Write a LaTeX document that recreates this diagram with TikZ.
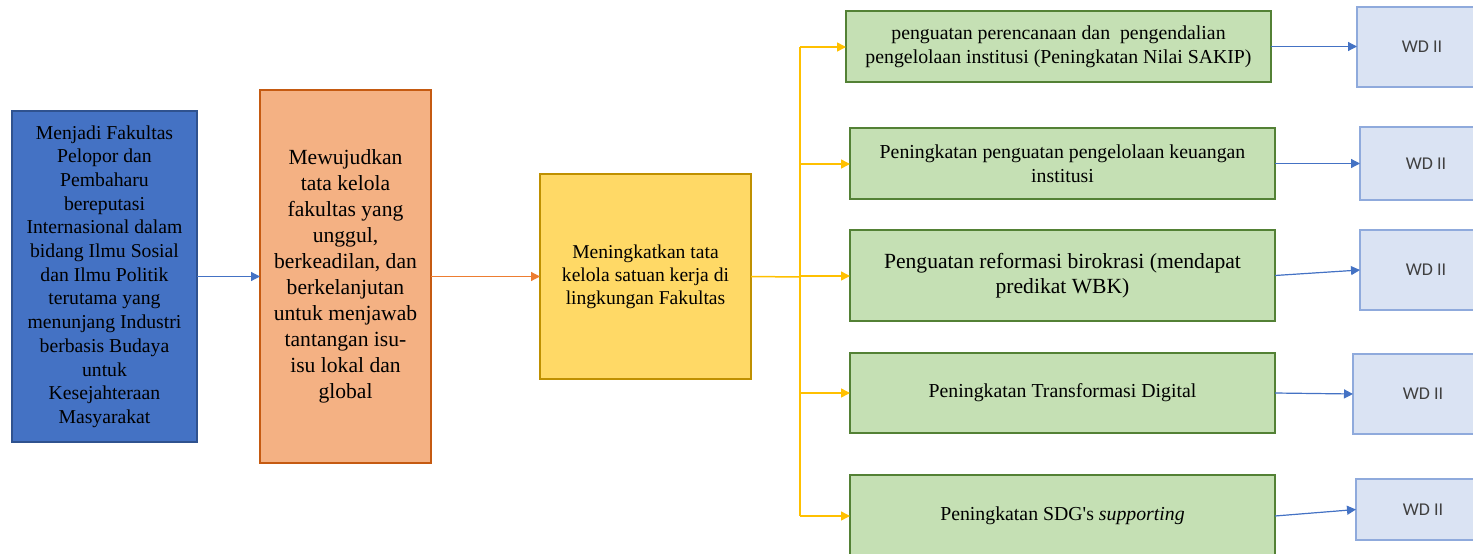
\documentclass[tikz,border=0pt]{standalone}
\usepackage{fontspec}
\setmainfont{Liberation Serif}
\newfontfamily\wdfont{Carlito}
\usetikzlibrary{arrows.meta}
\definecolor{bluefill}{HTML}{4472C4}
\definecolor{blueedge}{HTML}{2F528F}
\definecolor{orfill}{HTML}{F4B183}
\definecolor{oredge}{HTML}{C55A11}
\definecolor{orline}{HTML}{ED7D31}
\definecolor{yefill}{HTML}{FFD966}
\definecolor{yeedge}{HTML}{BF9000}
\definecolor{yeline}{HTML}{FFC000}
\definecolor{grfill}{HTML}{C5E0B4}
\definecolor{gredge}{HTML}{538135}
\definecolor{wdfill}{HTML}{DAE3F3}
\definecolor{wdedge}{HTML}{8FAADC}
\definecolor{wdtext}{HTML}{404040}
% straight apostrophe, taken directly from the font
\newcommand{\straightq}{\XeTeXglyph\XeTeXglyphindex "quotesingle"\relax}
\tikzset{
  box/.style={draw, line width=1.5pt, inner sep=0pt, outer sep=0pt, anchor=north west, align=center},
  bluebox/.style={box, fill=bluefill, draw=blueedge},
  orbox/.style={box, fill=orfill, draw=oredge},
  yebox/.style={box, fill=yefill, draw=yeedge},
  grbox/.style={box, fill=grfill, draw=gredge},
  wdbox/.style={box, fill=wdfill, draw=wdedge, text=wdtext, font=\wdfont\fontsize{18}{22}\selectfont},
  tip/.style={-{Triangle[length=9pt,width=9pt]}},
  bluearrow/.style={tip, draw=bluefill, fill=bluefill, line width=1.2pt},
  orarrow/.style={tip, draw=orline, fill=orline, line width=1.2pt},
  yeconn/.style={draw=yeline, line width=1.5pt},
  yearrow/.style={yeconn, tip, fill=yeline},
}
\begin{document}
\begin{tikzpicture}[x=1pt,y=-1pt]
\useasboundingbox (0,0) rectangle (1473,554);

% main chain
\node[bluebox, minimum width=185pt, minimum height=331pt,
      font=\fontsize{19.7}{23.7}\selectfont] (visi) at (12,111)
  {Menjadi Fakultas\\Pelopor dan\\Pembaharu\\bereputasi\\Internasional dalam\\bidang Ilmu Sosial\\dan Ilmu Politik\\terutama yang\\menunjang Industri\\berbasis Budaya\\untuk\\Kesejahteraan\\Masyarakat};
\node[orbox, minimum width=171pt, minimum height=373pt,
      font=\fontsize{21.6}{26}\selectfont] (misi) at (260,90)
  {Mewujudkan\\tata kelola\\fakultas yang\\unggul,\\berkeadilan, dan\\berkelanjutan\\untuk menjawab\\tantangan isu-\\isu lokal dan\\global};
\node[yebox, minimum width=211pt, minimum height=205pt,
      font=\fontsize{19.6}{23}\selectfont] (tujuan) at (540,174)
  {Meningkatkan tata\\kelola satuan kerja di\\lingkungan Fakultas};

% programme boxes
\node[grbox, minimum width=425pt, minimum height=71pt,
      font=\fontsize{19.8}{24}\selectfont] (g1) at (846,11)
  {penguatan perencanaan dan\ \ pengendalian\\pengelolaan institusi (Peningkatan Nilai SAKIP)};
\node[grbox, minimum width=425pt, minimum height=71pt,
      font=\fontsize{19.8}{24}\selectfont] (g2) at (850,128)
  {Peningkatan penguatan pengelolaan keuangan\\institusi};
\node[grbox, minimum width=425pt, minimum height=91pt,
      font=\fontsize{21.6}{25}\selectfont] (g3) at (850,230)
  {Penguatan reformasi birokrasi (mendapat\\predikat WBK)};
\node[grbox, minimum width=425pt, minimum height=80pt,
      font=\fontsize{19.8}{24}\selectfont] (g4) at (850,353)
  {Peningkatan Transformasi Digital};
\node[grbox, minimum width=425pt, minimum height=82pt,
      font=\fontsize{19.8}{24}\selectfont] (g5) at (850,475)
  {Peningkatan SDG\straightq s \textit{supporting}};

% responsible units (running off the right edge)
\node[wdbox, minimum width=130pt, minimum height=80pt] (w1) at (1357,7) {WD II};
\node[wdbox, minimum width=132pt, minimum height=73pt] (w2) at (1360,127) {WD II};
\node[wdbox, minimum width=132pt, minimum height=80pt] (w3) at (1360,230) {WD II};
\node[wdbox, minimum width=140pt, minimum height=80pt] (w4) at (1353,354) {WD II};
\node[wdbox, minimum width=134pt, minimum height=61pt] (w5) at (1356,479) {WD II};

% main chain connectors
\draw[bluearrow] (visi.east) -- (misi.west);
\draw[orarrow] (misi.east) -- (tujuan.west);

% branching connector
\coordinate (hub) at (800,277);
\coordinate (s1) at (800,47);
\coordinate (s2) at (800,164);
\coordinate (s3) at (800,276);
\coordinate (s4) at (800,393);
\coordinate (s5) at (800,516);
\draw[yeconn] (tujuan.east) -- (hub);
\draw[yeconn] (s1) -- (s5);
\draw[yearrow] (s1) -- (s1 -| g1.west);
\draw[yearrow] (s2) -- (s2 -| g2.west);
\draw[yearrow] (s3) -- (s3 -| g3.west);
\draw[yearrow] (s4) -- (s4 -| g4.west);
\draw[yearrow] (s5) -- (s5 -| g5.west);

% programme to unit connectors
\draw[bluearrow] (g1.east) -- (w1.west |- g1.east);
\draw[bluearrow] (g2.east) -- (w2.west |- g2.east);
\draw[bluearrow] (g3.east) -- (w3.west);
\draw[bluearrow] (g4.east) -- (w4.west);
\draw[bluearrow] (g5.east) -- (w5.west);
\end{tikzpicture}
\end{document}
